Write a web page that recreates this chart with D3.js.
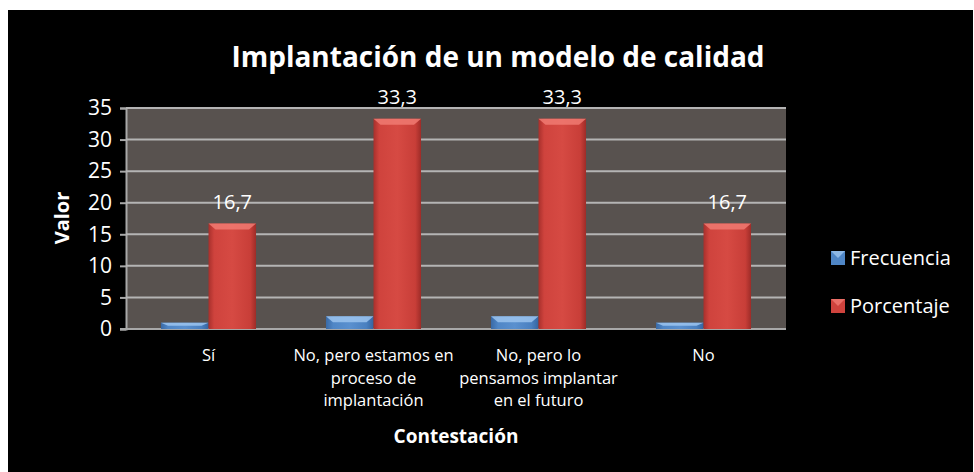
<!DOCTYPE html>
<html><head><meta charset="utf-8">
<script src="https://cdn.jsdelivr.net/npm/d3@7"></script>
<style>body{margin:0;background:#fff}svg{display:block}text{font-family:"Open Sans",sans-serif}</style>
</head><body>
<svg id="c" width="974" height="472"></svg>
<script>
const categories = [["Sí"], ["No, pero estamos en", "proceso de", "implantación"], ["No, pero lo", "pensamos implantar", "en el futuro"], ["No"]];
const seriesNames = ["Frecuencia", "Porcentaje"];
const frecuencia = [1, 2, 2, 1];
const porcentaje = [16.7, 33.3, 33.3, 16.7];
const porcentajeLabels = ["16,7", "33,3", "33,3", "16,7"];
const yTicks = [0, 5, 10, 15, 20, 25, 30, 35];

const svg = d3.select("#c");
svg.append("rect").attr("x", 8).attr("y", 10).attr("width", 965).attr("height", 462).attr("fill", "#000");

const defs = svg.append("defs");
function grad(id, stops) {
  const g = defs.append("linearGradient").attr("id", id).attr("x1", 0).attr("x2", 1).attr("y1", 0).attr("y2", 0);
  stops.forEach(s => g.append("stop").attr("offset", s[0]).attr("stop-color", s[1]));
}
grad("gRed", [[0, "#a8302c"], [0.12, "#cf433d"], [0.5, "#d64a43"], [0.88, "#c83e38"], [1, "#9e2c28"]]);
grad("gBlue", [[0, "#3a6aa6"], [0.15, "#4f86c6"], [0.5, "#5a90cf"], [0.85, "#4a80c0"], [1, "#3565a0"]]);

const L = 126, R = 786, T = 108, B = 329;
const x0 = d3.scaleBand().domain(d3.range(categories.length)).range([L, R]).paddingInner(0.424).paddingOuter(0.212);
const x1 = d3.scaleBand().domain(seriesNames).range([0, x0.bandwidth()]);
const y = d3.scaleLinear().domain([0, 35]).range([B, T]);

svg.append("rect").attr("x", L).attr("y", T).attr("width", R - L).attr("height", B - T).attr("fill", "#58524f");

// grid + axis
const yAxis = d3.axisLeft(y).tickValues(yTicks).tickSize(6).tickPadding(8);
const ga = svg.append("g").attr("transform", `translate(${L},0)`).call(yAxis);
ga.select(".domain").attr("stroke", "#a8a8a8").attr("stroke-width", 2);
ga.selectAll(".tick line").attr("stroke", "#a8a8a8").attr("stroke-width", 2);
ga.selectAll(".tick text").attr("fill", "#fff").attr("font-size", 21).attr("font-family", "Open Sans");
svg.append("g").selectAll("line").data(yTicks.filter(d => d > 0)).join("line")
  .attr("x1", L).attr("x2", R).attr("y1", d => y(d)).attr("y2", d => y(d))
  .attr("stroke", "#b4b4b4").attr("stroke-width", 2);
svg.append("line").attr("x1", L - 6).attr("x2", R).attr("y1", B).attr("y2", B).attr("stroke", "#a8a8a8").attr("stroke-width", 2);

// bars
const data = categories.map((c, i) => ({i, vals: [{k: "Frecuencia", v: frecuencia[i]}, {k: "Porcentaje", v: porcentaje[i]}]}));
const groups = svg.append("g").selectAll("g").data(data).join("g").attr("transform", d => `translate(${x0(d.i)},0)`);
groups.each(function (d) {
  const g = d3.select(this);
  d.vals.forEach(s => {
    const bx = x1(s.k), bw = x1.bandwidth(), by = y(s.v), bh = B - by;
    const isRed = s.k === "Porcentaje";
    g.append("rect").attr("x", bx).attr("y", by).attr("width", bw).attr("height", bh)
      .attr("fill", isRed ? "url(#gRed)" : "url(#gBlue)");
    const bev = Math.min(6, bh * 0.5);
    g.append("path").attr("d", `M${bx},${by}L${bx + bw},${by}L${bx + bw - 7},${by + bev}L${bx + 7},${by + bev}Z`)
      .attr("fill", isRed ? "#f07a72" : "#9cc4ee").attr("opacity", 0.85);
  });
});

// data labels
svg.append("g").selectAll("text").data(porcentaje).join("text")
  .attr("x", (d, i) => x0(i) + x1("Porcentaje") + x1.bandwidth() / 2)
  .attr("y", d => y(d) - 15)
  .attr("text-anchor", "middle").attr("fill", "#fff").attr("font-size", 20)
  .text((d, i) => porcentajeLabels[i]);

// category labels
const cl = svg.append("g").selectAll("text").data(categories).join("text")
  .attr("text-anchor", "middle").attr("fill", "#fff").attr("font-size", 16.5);
cl.each(function (lines, i) {
  const t = d3.select(this);
  lines.forEach((ln, j) => t.append("tspan").attr("x", x0(i) + x0.bandwidth() / 2).attr("y", 361 + j * 22.5).text(ln));
});

// title
svg.append("text").attr("x", 498).attr("y", 67).attr("text-anchor", "middle").attr("fill", "#fff")
  .attr("font-size", 28).attr("font-weight", "bold").attr("textLength", 533).attr("lengthAdjust", "spacingAndGlyphs")
  .text("Implantación de un modelo de calidad");
// axis titles
svg.append("text").attr("transform", "translate(69,218) rotate(-90)").attr("text-anchor", "middle").attr("fill", "#fff")
  .attr("font-size", 20).attr("font-weight", "bold").text("Valor");
svg.append("text").attr("x", 456).attr("y", 443).attr("text-anchor", "middle").attr("fill", "#fff")
  .attr("font-size", 19).attr("font-weight", "bold").text("Contestación");

// legend
const legY = [258, 306];
const colors = {Frecuencia: ["#4f86c6", "#9cc4ee"], Porcentaje: ["#cf433d", "#f07a72"]};
seriesNames.forEach((s, i) => {
  svg.append("rect").attr("x", 831).attr("y", legY[i] - 7).attr("width", 14).attr("height", 14).attr("fill", colors[s][0]);
  svg.append("path").attr("d", `M831,${legY[i] - 7}L845,${legY[i] - 7}L838,${legY[i]}Z`).attr("fill", colors[s][1]).attr("opacity", 0.8);
  svg.append("text").attr("x", 850).attr("y", legY[i] + 7).attr("fill", "#fff").attr("font-size", 20).text(s);
});
</script>
</body></html>
